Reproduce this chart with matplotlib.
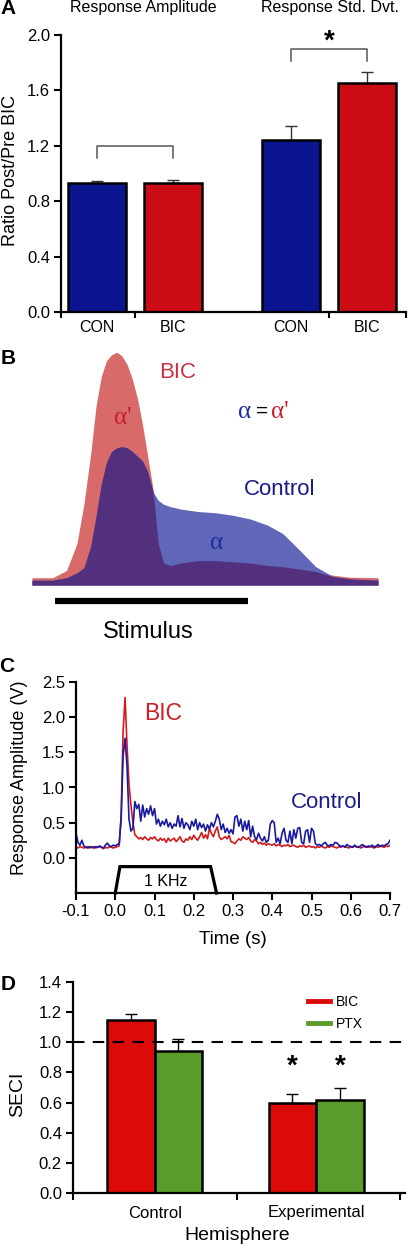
import numpy as np
import matplotlib
matplotlib.use('Agg')
import matplotlib.pyplot as plt
from matplotlib.lines import Line2D

plt.rcParams['font.family'] = ['Liberation Sans', 'DejaVu Sans']

# ---- panel A: ratio post/pre BIC
a_labels = ['CON', 'BIC', 'CON', 'BIC']
a_titles = ['Response Amplitude', 'Response Std. Dvt.']
a_values = [0.93, 0.935, 1.245, 1.65]
a_errors = [0.018, 0.015, 0.10, 0.08]
a_yticks = [0.0, 0.4, 0.8, 1.2, 1.6, 2.0]

# ---- panel B: schematic response envelopes
b_x = [0, 6, 10, 13, 15, 17, 18.5, 20, 21.5, 23, 24.5, 26, 27.5, 29, 30.5, 32,
       33.5, 35, 36.5, 38, 40, 43, 48, 53, 58, 63, 68, 72.5, 77.5, 82, 87, 92, 100]
b_bic = [0.03, 0.03, 0.06, 0.17, 0.33, 0.54, 0.73, 0.85, 0.915, 0.94, 0.95, 0.935,
         0.90, 0.84, 0.76, 0.65, 0.52, 0.39, 0.17, 0.09, 0.08, 0.09, 0.10, 0.10,
         0.095, 0.09, 0.08, 0.075, 0.065, 0.055, 0.04, 0.032, 0.03]
b_control = [0.02, 0.02, 0.03, 0.05, 0.07, 0.16, 0.28, 0.41, 0.50, 0.545, 0.56, 0.565,
             0.56, 0.545, 0.525, 0.505, 0.46, 0.38, 0.345, 0.33, 0.32, 0.31, 0.30,
             0.295, 0.285, 0.27, 0.245, 0.21, 0.14, 0.075, 0.035, 0.025, 0.02]

# ---- panel C: response traces (5 ms bins, -0.1 .. 0.7 s)
c_control = [0.35, 0.22, 0.18, 0.25, 0.17, 0.15, 0.14, 0.16, 0.15, 0.14,
             0.16, 0.15, 0.17, 0.15, 0.14, 0.18, 0.21, 0.17, 0.16, 0.18,
             0.17, 0.19, 0.20, 0.55, 1.45, 1.70, 1.30, 0.55, 0.38, 0.42,
             0.80, 0.70, 0.76, 0.52, 0.75, 0.58, 0.70, 0.62, 0.74, 0.60,
             0.70, 0.48, 0.55, 0.45, 0.52, 0.47, 0.55, 0.44, 0.50, 0.42,
             0.48, 0.45, 0.60, 0.44, 0.56, 0.42, 0.50, 0.47, 0.40, 0.52,
             0.45, 0.55, 0.40, 0.50, 0.43, 0.48, 0.38, 0.47, 0.41, 0.50,
             0.44, 0.52, 0.62, 0.55, 0.40, 0.48, 0.36, 0.42, 0.35, 0.40,
             0.34, 0.58, 0.60, 0.45, 0.55, 0.38, 0.52, 0.40, 0.53, 0.30,
             0.45, 0.30, 0.26, 0.35, 0.28, 0.24, 0.30, 0.22, 0.25, 0.48,
             0.53, 0.50, 0.22, 0.28, 0.20, 0.35, 0.42, 0.25, 0.22, 0.38,
             0.20, 0.40, 0.28, 0.42, 0.43, 0.22, 0.20, 0.38, 0.40, 0.22,
             0.42, 0.38, 0.20, 0.18, 0.19, 0.17, 0.20, 0.22, 0.18, 0.17,
             0.19, 0.18, 0.22, 0.21, 0.18, 0.16, 0.17, 0.15, 0.19, 0.17,
             0.16, 0.15, 0.18, 0.16, 0.15, 0.17, 0.19, 0.16, 0.15, 0.17,
             0.16, 0.18, 0.15, 0.17, 0.19, 0.16, 0.18, 0.17, 0.19, 0.20, 0.25]
c_bic = [0.15, 0.14, 0.16, 0.15, 0.14, 0.15, 0.16, 0.14, 0.15, 0.16,
         0.14, 0.15, 0.16, 0.15, 0.13, 0.15, 0.14, 0.16, 0.15, 0.14,
         0.15, 0.16, 0.17, 0.60, 1.80, 2.28, 1.60, 1.05, 0.75, 0.50,
         0.33, 0.30, 0.27, 0.29, 0.26, 0.30, 0.27, 0.25, 0.29, 0.27,
         0.30, 0.26, 0.24, 0.28, 0.25, 0.27, 0.22, 0.28, 0.24, 0.26,
         0.28, 0.23, 0.26, 0.30, 0.24, 0.22, 0.27, 0.25, 0.30, 0.26,
         0.32, 0.28, 0.25, 0.30, 0.36, 0.28, 0.33, 0.27, 0.42, 0.35,
         0.30, 0.38, 0.44, 0.30, 0.26, 0.28, 0.30, 0.27, 0.32, 0.23,
         0.22, 0.20, 0.24, 0.27, 0.25, 0.30, 0.28, 0.26, 0.29, 0.24,
         0.22, 0.26, 0.24, 0.20, 0.22, 0.19, 0.21, 0.18, 0.20, 0.19,
         0.18, 0.20, 0.17, 0.19, 0.18, 0.16, 0.18, 0.17, 0.19, 0.16,
         0.17, 0.18, 0.16, 0.15, 0.17, 0.16, 0.18, 0.15, 0.16, 0.17,
         0.15, 0.16, 0.14, 0.16, 0.15, 0.17, 0.15, 0.14, 0.16, 0.15,
         0.17, 0.16, 0.15, 0.14, 0.16, 0.15, 0.17, 0.16, 0.15, 0.14,
         0.16, 0.15, 0.17, 0.15, 0.16, 0.14, 0.15, 0.17, 0.16, 0.15,
         0.16, 0.15, 0.14, 0.16, 0.15, 0.17, 0.16, 0.15, 0.17, 0.16, 0.18]
c_time = np.linspace(-0.1, 0.7, len(c_control))
stim_t = [0.0, 0.012, 0.243, 0.258]
stim_v = [-0.5, -0.125, -0.125, -0.5]
c_xticks = [-0.1, 0.0, 0.1, 0.2, 0.3, 0.4, 0.5, 0.6, 0.7]
c_yticks = [0.0, 0.5, 1.0, 1.5, 2.0, 2.5]

# ---- panel D: SECI by hemisphere
d_groups = ['Control', 'Experimental']
d_bic = [1.15, 0.60]
d_bic_err = [0.035, 0.06]
d_ptx = [0.94, 0.62]
d_ptx_err = [0.085, 0.08]
d_yticks = [0.0, 0.2, 0.4, 0.6, 0.8, 1.0, 1.2, 1.4]

W, H = 408, 1248
fig = plt.figure(figsize=(W / 100, H / 100), dpi=100)


def box(l, t, r, b):
    return [l / W, 1 - b / H, (r - l) / W, (b - t) / H]


def ftext(x, y, s, **kw):
    kw.setdefault('ha', 'center')
    kw.setdefault('va', 'center')
    fig.text(x / W, 1 - y / H, s, **kw)


def style(ax):
    for s in ['top', 'right']:
        ax.spines[s].set_visible(False)
    for s in ['left', 'bottom']:
        ax.spines[s].set_linewidth(1.6)
    ax.tick_params(direction='out', width=1.5, length=5, labelsize=12, pad=3)


BLUE = '#0c1590'
RED = '#cc0c14'

# ===== A
axA = fig.add_axes(box(61, 35, 406, 312))
posA = [0.47, 1.47, 3.03, 4.03]
axA.bar(posA, a_values, width=0.76, color=[BLUE, RED, BLUE, RED], edgecolor='black',
        linewidth=1.8, zorder=2,
        yerr=[[0] * 4, a_errors],
        error_kw=dict(ecolor='#333333', elinewidth=1, capsize=4, capthick=1, zorder=1))
axA.set_xlim(0, 4.54)
axA.set_ylim(0, 2.0)
style(axA)
axA.set_yticks(a_yticks)
axA.set_yticklabels(['%.1f' % v for v in a_yticks])
axA.set_xticks(posA)
axA.set_xticklabels(a_labels, fontsize=11.5)
axA.tick_params(axis='x', length=0, pad=6)
axA.set_xticks([0, (posA[0] + posA[1]) / 2, (posA[2] + posA[3]) / 2, 4.54], minor=True)
axA.tick_params(axis='x', which='minor', length=4, width=1.5)
for (i, j), top, drop in [((0, 1), 1.2, 0.09), ((2, 3), 1.9, 0.09)]:
    axA.plot([posA[i], posA[i], posA[j], posA[j]], [top - drop, top, top, top - drop],
             color='#555555', lw=1.1, clip_on=False)
axA.text((posA[2] + posA[3]) / 2, 1.95, '*', ha='center', va='center', fontsize=20,
         fontweight='bold')
ftext(143, 0, a_titles[0], fontsize=11.5, va='top')
ftext(330, 0, a_titles[1], fontsize=11.5, va='top')
ftext(11, 171, 'Ratio Post/Pre BIC', rotation=90, fontsize=13)
ftext(8, 9, 'A', fontsize=15, fontweight='bold')

# ===== B
axB = fig.add_axes(box(32, 340, 378, 650))
axB.set_xlim(0, 100)
axB.set_ylim(-0.265, 1.0)
axB.axis('off')
bic_arr = np.array(b_bic)
con_arr = np.array(b_control)
axB.fill_between(b_x, 0, bic_arr, color='#d86a6a', lw=0)
axB.fill_between(b_x, 0, con_arr, color='#6167b8', lw=0)
axB.fill_between(b_x, 0, np.minimum(bic_arr, con_arr), color='#53307e', lw=0)
axB.plot([6.6, 62.4], [-0.065, -0.065], color='black', lw=4.5, solid_capstyle='butt')
ftext(148, 632, 'Stimulus', fontsize=17)
ftext(178, 373, 'BIC', fontsize=16, color='#c93244')
ftext(123, 418, "\u03b1'", fontsize=18, color='#c81e28', family='Liberation Serif')
ftext(245, 412, '\u03b1', fontsize=18, color='#1e2a9c', family='Liberation Serif')
ftext(262, 411, '=', fontsize=15, color='black')
ftext(280, 412, "\u03b1'", fontsize=18, color='#c81e28', family='Liberation Serif')
ftext(280, 490, 'Control', fontsize=16, color='#1a1a8c')
ftext(217, 543, '\u03b1', fontsize=18, color='#1e2a9c', family='Liberation Serif')
ftext(8, 358, 'B', fontsize=15, fontweight='bold')

# ===== C
axC = fig.add_axes(box(76, 682, 390, 893))
axC.plot(c_time, c_bic, color='#d41a1a', lw=1.2)
axC.plot(c_time, c_control, color='#1a1aa0', lw=1.2)
axC.plot(stim_t, stim_v, color='black', lw=2.3, clip_on=False, solid_joinstyle='miter')
axC.text((stim_t[1] + stim_t[2]) / 2, -0.33, '1 KHz', ha='center', va='center', fontsize=11.5)
axC.set_xlim(-0.1, 0.7)
axC.set_ylim(-0.5, 2.5)
style(axC)
axC.set_xticks(c_xticks)
axC.set_xticklabels(['%.1f' % v for v in c_xticks])
axC.set_yticks(c_yticks)
axC.set_yticklabels(['%.1f' % v for v in c_yticks])
ftext(163, 713, 'BIC', fontsize=16.5, color='#cc1f26')
ftext(327, 802, 'Control', fontsize=16, color='#1c1c8c')
ftext(233, 940, 'Time (s)', fontsize=13.5)
ftext(20, 778, 'Response Amplitude (V)', rotation=90, fontsize=13)
ftext(7, 666, 'C', fontsize=15, fontweight='bold')

# ===== D
axD = fig.add_axes(box(73, 982, 405, 1193))
centers = np.array([0.5, 1.487])
bw = 0.29
ekw = dict(ecolor='black', elinewidth=1, capsize=4, capthick=1, zorder=1)
axD.bar(centers - bw / 2, d_bic, width=bw, color='#dd0a0a', edgecolor='black', lw=1.8,
        yerr=[[0, 0], d_bic_err], error_kw=ekw, zorder=2, label='BIC')
axD.bar(centers + bw / 2, d_ptx, width=bw, color='#5a9c2c', edgecolor='black', lw=1.8,
        yerr=[[0, 0], d_ptx_err], error_kw=ekw, zorder=2, label='PTX')
axD.axhline(1.0, color='black', lw=1.5, dashes=(5.5, 4), zorder=3)
axD.set_xlim(0, 2.03)
axD.set_ylim(0, 1.4)
style(axD)
axD.set_yticks(d_yticks)
axD.set_yticklabels(['%.1f' % v for v in d_yticks])
axD.set_xticks(centers)
axD.set_xticklabels(d_groups, fontsize=12)
axD.tick_params(axis='x', length=0, pad=9)
axD.set_xticks([0, 1, 2], minor=True)
axD.tick_params(axis='x', which='minor', length=5, width=1.5)
for x in [centers[1] - bw / 2, centers[1] + bw / 2]:
    axD.text(x, 0.84, '*', ha='center', va='center', fontsize=20, fontweight='bold')
handles = [Line2D([], [], color='#dd0a0a', lw=3.5), Line2D([], [], color='#5a9c2c', lw=3.5)]
axD.legend(handles, ['BIC', 'PTX'], loc='upper left', bbox_to_anchor=(308 / W, 1 - 995 / H),
           bbox_transform=fig.transFigure, frameon=False, fontsize=10, handlelength=1.6,
           handletextpad=0.4, labelspacing=0.55, borderaxespad=0, borderpad=0)
ftext(237, 1235, 'Hemisphere', fontsize=14)
ftext(18, 1094, 'SECI', rotation=90, fontsize=14)
ftext(8, 985, 'D', fontsize=15, fontweight='bold')

fig.savefig('out.png', dpi=100)
